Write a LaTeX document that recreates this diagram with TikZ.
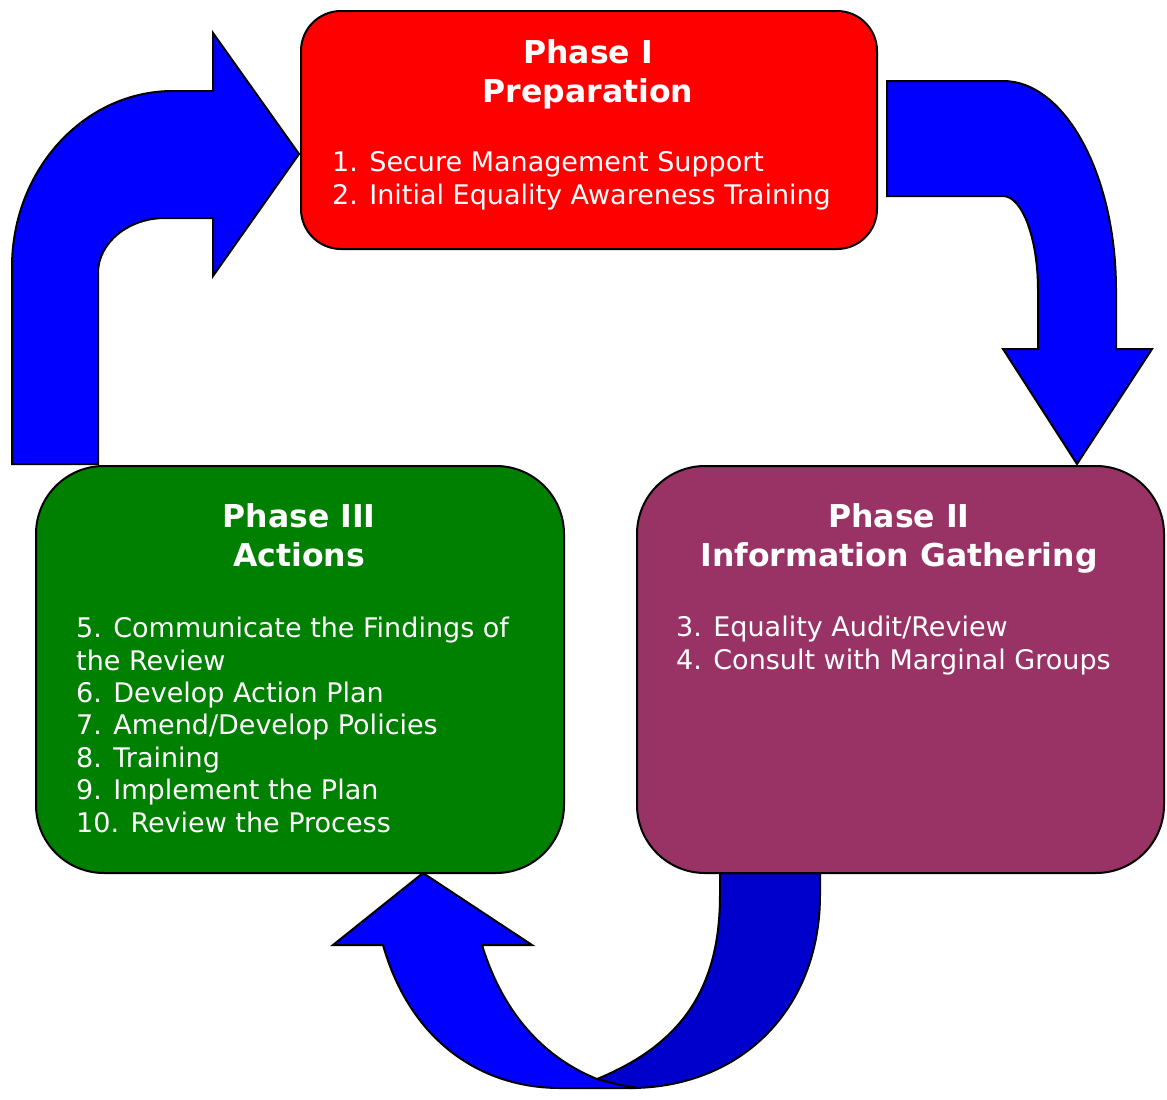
\documentclass[tikz,border=0pt]{standalone}
\usepackage{fontspec}
\setmainfont{DejaVu Sans}
\definecolor{arrowblue}{RGB}{0,0,255}
\definecolor{arrowdark}{RGB}{0,0,204}
\definecolor{phasered}{RGB}{255,0,0}
\definecolor{phasegreen}{RGB}{0,128,0}
\definecolor{phaseplum}{RGB}{153,51,102}
\begin{document}
\begin{tikzpicture}[x=1pt,y=-1pt,
  outline/.style={draw=black, line width=2pt, line join=miter},
  blockarrow/.style={outline, fill=arrowblue},
  phasebox/.style={outline, rectangle, inner sep=0pt, anchor=north west},
  % multi-line nodes: the base anchor sits on the last line's baseline
  title/.style={text=white, font=\fontsize{31.5}{38.5}\selectfont\bfseries, align=center, anchor=base, inner sep=0pt},
  items/.style={text=white, font=\fontsize{27}{32.4}\selectfont, align=left, anchor=base west, inner sep=0pt},
]
\useasboundingbox (0,0) rectangle (1167,1100);

% curved arrow: Phase III -> Phase I
\draw[blockarrow] (12,464) -- (12,267) .. controls (12,170) and (84,91) .. (173,91)
  -- (213,91) -- (213,33) -- (299,154) -- (213,276) -- (213,218) -- (165,218)
  .. controls (128,218) and (98,243) .. (98,273) -- (98,464) -- cycle;

% curved arrow: Phase I -> Phase II
\draw[blockarrow] (887,81) -- (1003,81) .. controls (1065,81) and (1116,175) .. (1116,290)
  -- (1116,349) -- (1152,349) -- (1077,464) -- (1003,349) -- (1038,349) -- (1038,290)
  .. controls (1038,238) and (1022,196) .. (1003,196) -- (887,196) -- cycle;

% U-turn arrow: Phase II -> Phase III (back half)
\draw[outline, fill=arrowdark] (720,873) -- (820,873) -- (820,895)
  .. controls (820,1010) and (740,1088) .. (630,1088) -- (597,1079)
  .. controls (680,1045) and (720,990) .. (720,895) -- cycle;

% U-turn arrow: front half with head
\draw[blockarrow] (637,1088) -- (560,1088) .. controls (480,1088) and (410,1040) .. (383,945)
  -- (333,945) -- (423,873) -- (532,945) -- (482,945)
  .. controls (505,1020) and (550,1060) .. (597,1079)
  .. controls (615,1084) .. (637,1088) -- cycle;

% phase boxes
\node[phasebox, fill=phasered, minimum width=576pt, minimum height=238pt, rounded corners=40pt] (p1) at (300,10) {};
\node[phasebox, fill=phasegreen, minimum width=528pt, minimum height=407pt, rounded corners=68pt] (p3) at (35,465) {};
\node[phasebox, fill=phaseplum, minimum width=527pt, minimum height=407pt, rounded corners=68pt] (p2) at (636,465) {};

% texts
\node[title] (t1) at (588,102) {Phase I\\Preparation};
\node[items] (i1) at (332,204) {1. Secure Management Support\\2. Initial Equality Awareness Training};

\node[title] (t2) at (899,566) {Phase II\\Information Gathering};
\node[items] (i2) at (676,669) {3. Equality Audit/Review\\4. Consult with Marginal Groups};

\node[title] (t3) at (299,566) {Phase III\\Actions};
\node[items] (i3) at (76,832) {5. Communicate the Findings of\\the Review\\6. Develop Action Plan\\7. Amend/Develop Policies\\8. Training\\9. Implement the Plan\\10. Review the Process};
\end{tikzpicture}
\end{document}
